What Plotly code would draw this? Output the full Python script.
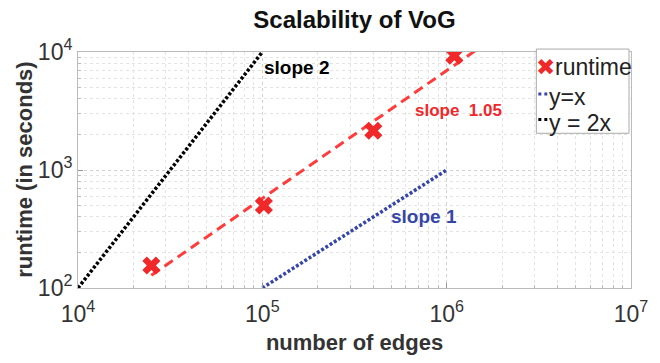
import plotly.graph_objects as go

# runtime measurements
edges = [2.5e4, 1.02e5, 4.0e5, 1.1e6]
runtime = [155, 500, 2150, 9300]

# fitted line (slope 1.05)
fit_x = [2.5e4, 1.5e6]
fit_y = [128, 10800]

# reference lines
yx_x = [1e5, 1e6]
yx_y = [1e2, 1e3]
y2x_x = [1e4, 1e5]
y2x_y = [1e2, 1e4]

tick_vals_x = [1e4, 1e5, 1e6, 1e7]
tick_text_x = ["10<sup>4</sup>", "10<sup>5</sup>", "10<sup>6</sup>", "10<sup>7</sup>"]
tick_vals_y = [1e2, 1e3, 1e4]
tick_text_y = ["10<sup>2</sup>", "10<sup>3</sup>", "10<sup>4</sup>"]

legend_labels = ["runtime", "y=x", "y = 2x"]

RED = "#f0282a"
BLUE = "#3646a8"
FONT = "Liberation Sans, Arial, sans-serif"

# plot-area geometry (pixels) used to place the hand-drawn legend
L, R, T, B = 78, 27, 52, 70
PW, PH = 660 - L - R, 363 - T - B


def px(xp):
    return (xp - L) / PW


def py(yp):
    return (363 - B - yp) / PH


fig = go.Figure()
fig.add_trace(go.Scatter(x=fit_x, y=fit_y, mode="lines",
                         line=dict(color="#ff3b3b", width=3, dash="10px,6px"),
                         showlegend=False, hoverinfo="skip"))
fig.add_trace(go.Scatter(x=edges, y=runtime, mode="markers", name=legend_labels[0],
                         marker=dict(symbol="x", size=16, color=RED, line=dict(width=0))))
fig.add_trace(go.Scatter(x=yx_x, y=yx_y, mode="lines", name=legend_labels[1],
                         line=dict(color=BLUE, width=3.5, dash="3px,2px")))
fig.add_trace(go.Scatter(x=y2x_x, y=y2x_y, mode="lines", name=legend_labels[2],
                         line=dict(color="black", width=3.5, dash="3px,2px")))

axis_common = dict(
    type="log",
    showgrid=True, gridcolor="#d0d0d0", griddash="dot", gridwidth=1,
    showline=True, linecolor="#bbbbbb", linewidth=1, mirror=True,
    ticks="inside", ticklen=5, tickcolor="#999999",
    tickfont=dict(family=FONT, size=23, color="#333333"),
    zeroline=False,
    minor=dict(showgrid=True, gridcolor="#e3e3e3", griddash="dot",
               ticks="inside", ticklen=3, tickcolor="#bbbbbb", dtick="D1"),
)

fig.update_xaxes(**axis_common, range=[4, 7], tickvals=tick_vals_x, ticktext=tick_text_x,
                 ticklabelstandoff=5,
                 title=dict(text="<b>number of edges</b>", standoff=9,
                            font=dict(family=FONT, size=22, color="#333333")))
fig.update_yaxes(**axis_common, range=[2, 4], tickvals=tick_vals_y, ticktext=tick_text_y)


def label(xp, yp, text, size, color, xanchor="center", angle=0):
    fig.add_annotation(x=px(xp), y=py(yp), xref="paper", yref="paper", text=text,
                       xanchor=xanchor, yanchor="middle", showarrow=False,
                       textangle=angle,
                       font=dict(family=FONT, size=size, color=color))


# y-axis title
label(24, 172, "<b>runtime (in seconds)</b>", 22, "#333333", angle=-90)

label(297, 68, "<b>slope 2</b>", 19, "black")
label(460, 112, "<b>slope  1.05</b>", 17, RED)
label(425, 220, "<b>slope 1</b>", 19, BLUE)

# hand-drawn compact legend (MATLAB style)
fig.add_shape(type="rect", xref="paper", yref="paper",
              x0=px(538), x1=px(631), y0=py(135), y1=py(49),
              line=dict(color="#aaaaaa", width=1), fillcolor="white", layer="above")
label(536, 67, f"<span style='color:{RED}'>✖</span>{legend_labels[0]}", 23, "#222222", "left")
for yy, col, lab in [(98, BLUE, legend_labels[1]), (124, "black", legend_labels[2])]:
    fig.add_shape(type="line", xref="paper", yref="paper",
                  x0=px(540), x1=px(549), y0=py(yy - 3), y1=py(yy - 3),
                  line=dict(color=col, width=3, dash="dot"), layer="above")
    label(549, yy, lab, 23, "#222222", "left")

fig.update_layout(
    width=660, height=363,
    margin=dict(l=L, r=R, t=T, b=B),
    paper_bgcolor="white", plot_bgcolor="white",
    showlegend=False,
    title=dict(text="<b>Scalability of VoG</b>", x=0.5, xref="paper", xanchor="center",
               y=1 - 20 / 363, yanchor="middle",
               font=dict(family=FONT, size=24, color="#111111")),
)

fig.write_html("out.html")
